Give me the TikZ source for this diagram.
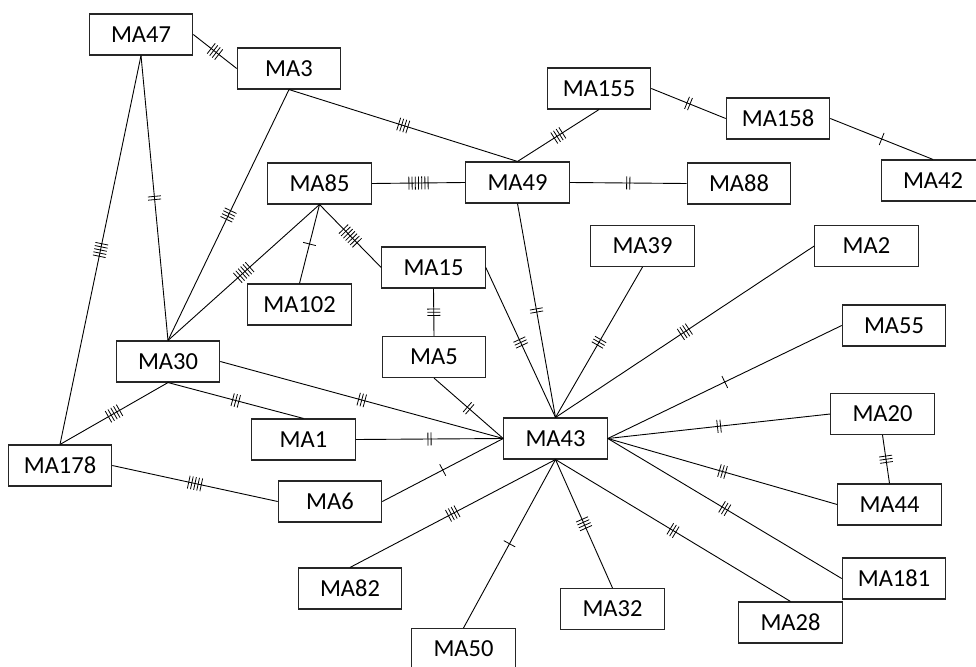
\documentclass[tikz,border=0pt]{standalone}
\usepackage{fontspec}
\setmainfont{Carlito}
\usetikzlibrary{decorations.markings}
\tikzset{
  box/.style={draw=black!85, line width=1.1pt, minimum width=103.5pt, minimum height=41pt, inner sep=0pt, fill=white, font=\fontsize{24.5}{29}\selectfont},
  link/.style={draw=black, line width=0.9pt},
  tk/.style={postaction={decorate,decoration={markings,mark=at position 0.5 with {\foreach \i in {1,...,#1}{\draw[line width=0.8pt] ({(\i-(#1+1)/2)*3.2},-6.5) -- ++(0,13);}}}}}
}
\begin{document}
\begin{tikzpicture}[x=1pt,y=-1pt]
\useasboundingbox (0,0) rectangle (976,666);
\node[box] (MA47) at (141,34.5) {MA47};
\node[box] (MA3) at (289,68.5) {MA3};
\node[box] (MA85) at (319.5,183.5) {MA85};
\node[box] (MA155) at (599,88.5) {MA155};
\node[box] (MA49) at (517.5,182.5) {MA49};
\node[box] (MA15) at (433.5,267.5) {MA15};
\node[box] (MA39) at (642.5,246) {MA39};
\node[box] (MA158) at (778,118.5) {MA158};
\node[box] (MA42) at (933,180.5) {MA42};
\node[box] (MA88) at (739,183.5) {MA88};
\node[box] (MA2) at (866.5,246) {MA2};
\node[box] (MA55) at (894,325.5) {MA55};
\node[box] (MA20) at (882.5,414) {MA20};
\node[box] (MA44) at (889.5,504.5) {MA44};
\node[box] (MA181) at (894,578.5) {MA181};
\node[box] (MA28) at (790.5,622.5) {MA28};
\node[box] (MA32) at (612.5,609) {MA32};
\node[box] (MA50) at (463.5,649) {MA50};
\node[box] (MA82) at (350,588.5) {MA82};
\node[box] (MA6) at (330,501.5) {MA6};
\node[box] (MA43) at (555.5,438.5) {MA43};
\node[box] (MA5) at (434,357) {MA5};
\node[box] (MA1) at (303.5,439.5) {MA1};
\node[box] (MA30) at (168,361.5) {MA30};
\node[box] (MA178) at (60,465.5) {MA178};
\node[box] (MA102) at (299.5,304.5) {MA102};

\begin{scope}[on background layer/.style={}]
\draw[link,tk=4] (MA47.east) -- (MA3.west);
\draw[link,tk=2] (MA47.south) -- (MA30.north);
\draw[link,tk=5] (MA47.south) -- (MA178.north);
\draw[link,tk=4] (MA3.south) -- (MA30.north);
\draw[link,tk=4] (MA3.south) -- (MA49.north);
\draw[link,tk=6] (MA85.south) -- (MA30.north);
\draw[link,tk=1] (MA85.south) -- (MA102.north);
\draw[link,tk=7] (MA85.south) -- (MA15.west);
\draw[link,tk=7] (MA85.east) -- (MA49.west);
\draw[link,tk=4] (MA155.south) -- (MA49.north);
\draw[link,tk=2] (MA155.east) -- (MA158.west);
\draw[link,tk=1] (MA158.east) -- (MA42.north);
\draw[link,tk=2] (MA49.east) -- (MA88.west);
\draw[link,tk=2] (MA49.south) -- (MA43.north);
\draw[link,tk=3] (MA15.south) -- (MA5.north);
\draw[link,tk=3] (MA15.east) -- (MA43.north);
\draw[link,tk=3] (MA39.south) -- (MA43.north);
\draw[link,tk=4] (MA2.west) -- (MA43.north);
\draw[link,tk=1] (MA55.west) -- (MA43.east);
\draw[link,tk=2] (MA20.west) -- (MA43.east);
\draw[link,tk=3] (MA20.south) -- (MA44.north);
\draw[link,tk=3] (MA44.west) -- (MA43.east);
\draw[link,tk=3] (MA181.west) -- (MA43.east);
\draw[link,tk=3] (MA28.north) -- (MA43.south);
\draw[link,tk=4] (MA32.north) -- (MA43.south);
\draw[link,tk=1] (MA50.north) -- (MA43.south);
\draw[link,tk=4] (MA82.north) -- (MA43.south);
\draw[link,tk=1] (MA6.east) -- (MA43.west);
\draw[link,tk=2] (MA1.east) -- (MA43.west);
\draw[link,tk=3] (MA30.east) -- (MA43.west);
\draw[link,tk=2] (MA5.south) -- (MA43.west);
\draw[link,tk=3] (MA30.south) -- (MA1.north);
\draw[link,tk=5] (MA30.south) -- (MA178.north);
\draw[link,tk=5] (MA178.east) -- (MA6.west);
\end{scope}
\end{tikzpicture}
\end{document}
